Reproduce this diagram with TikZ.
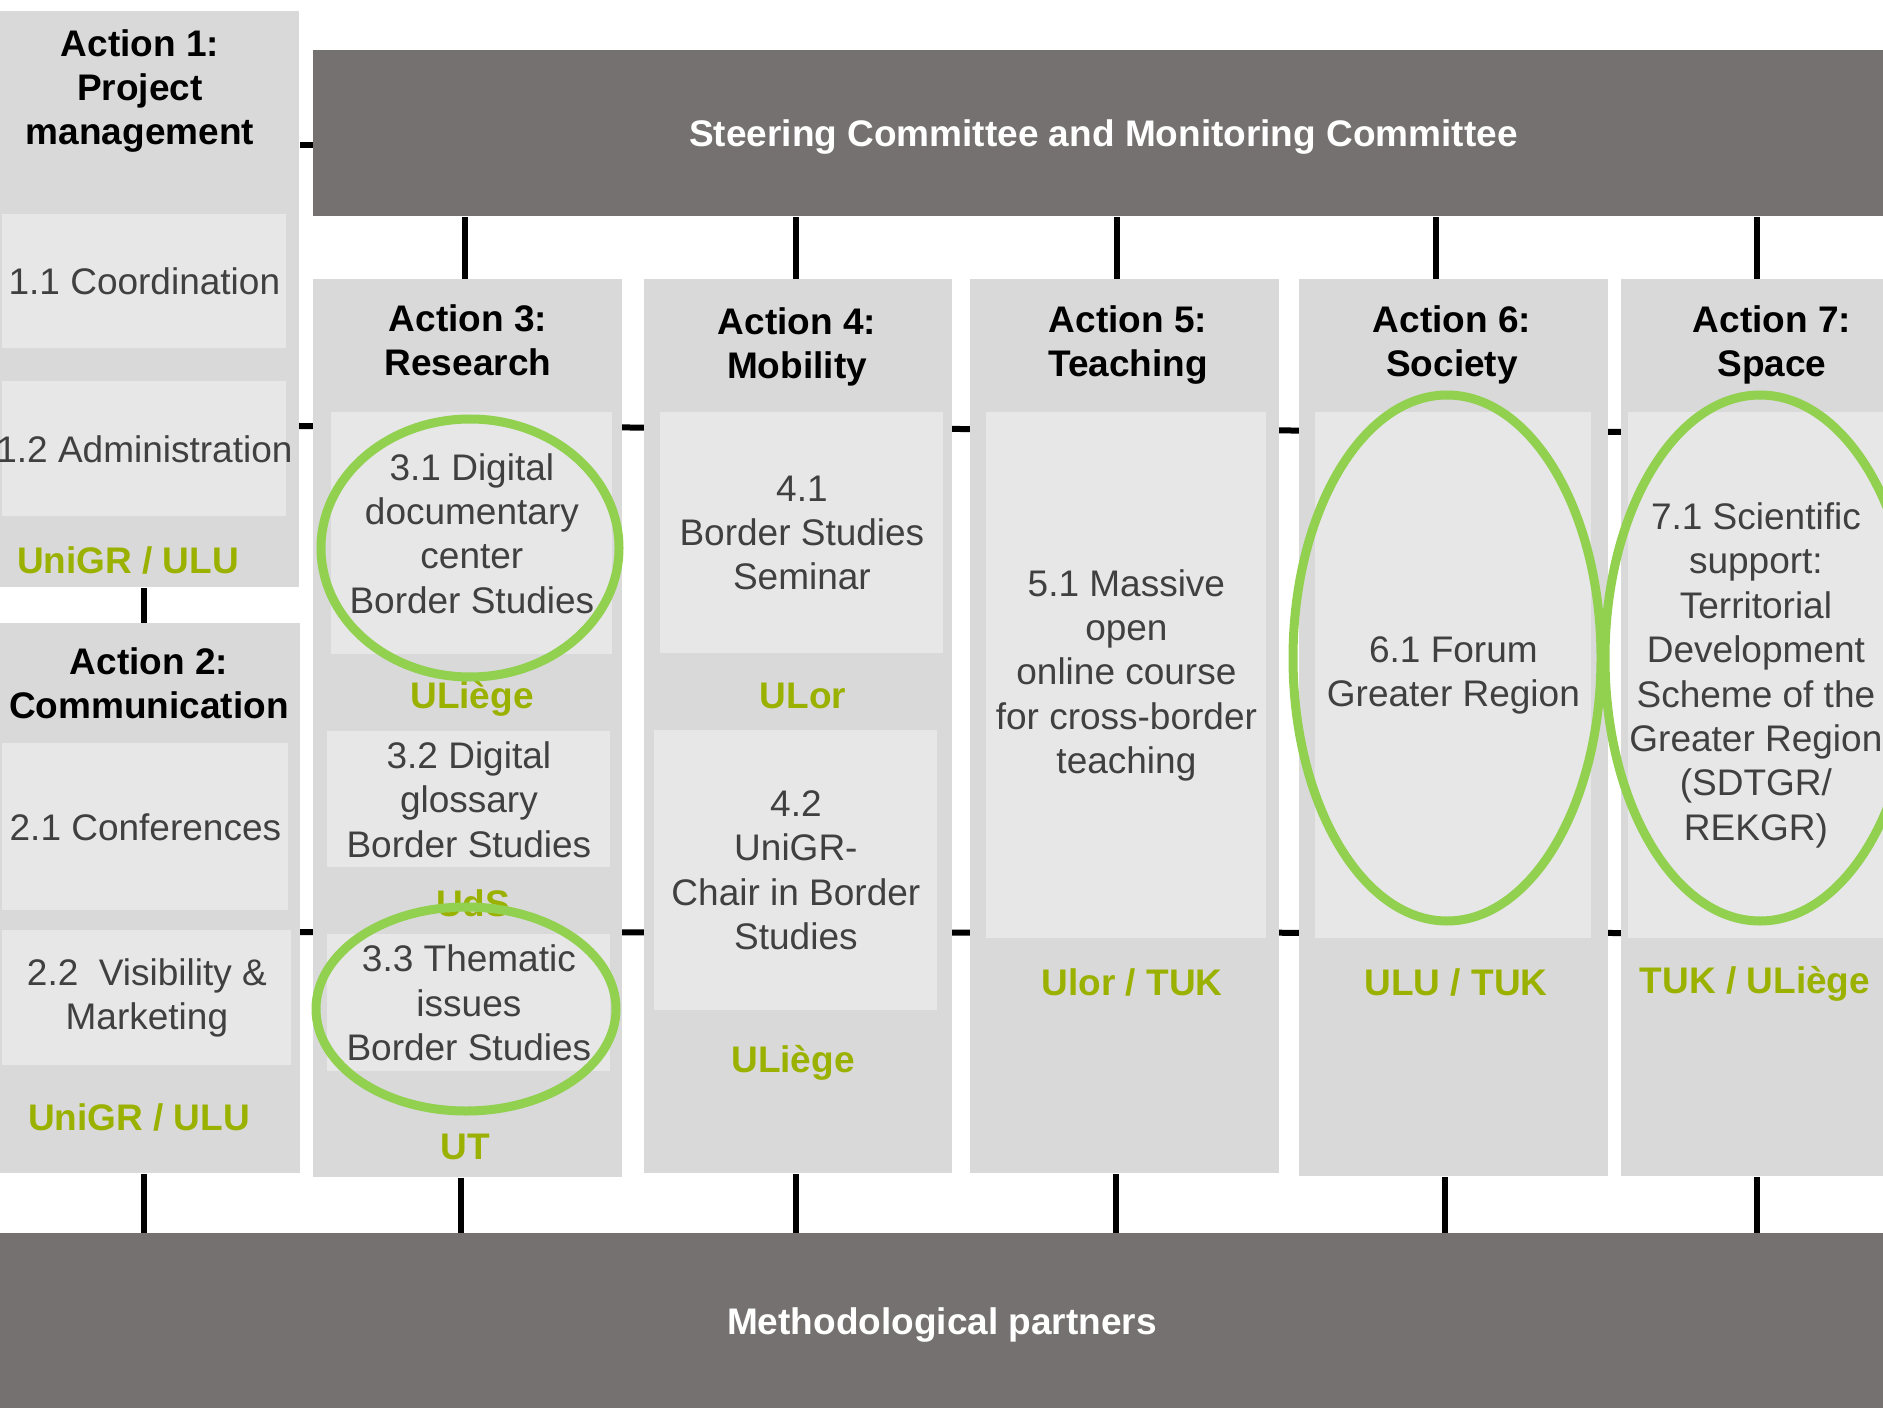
\documentclass[tikz,border=0pt]{standalone}
\usepackage{fontspec}
\setmainfont{Liberation Sans}
\usetikzlibrary{shapes,positioning,calc}

\definecolor{committee}{RGB}{117,113,113}
\definecolor{colgray}{RGB}{217,217,217}
\definecolor{taskgray}{RGB}{231,231,231}
\definecolor{tasktext}{RGB}{64,64,64}
\definecolor{partnergreen}{RGB}{155,177,0}
\definecolor{ringgreen}{RGB}{146,208,80}

\begin{document}
\begin{tikzpicture}[x=0.5pt, y=-0.5pt,
    bar/.style={rectangle, fill=committee, text=white, anchor=north west, inner sep=0pt, text depth=0pt, font=\fontsize{18.5}{22.2}\selectfont\bfseries},
    column/.style={rectangle, fill=colgray, anchor=north west, inner sep=0pt},
    task/.style={rectangle, fill=taskgray, anchor=north west, inner sep=0pt, text=tasktext, align=center, font=\fontsize{18.5}{22.2}\selectfont},
    heading/.style={text=black, align=center, font=\fontsize{18.5}{22.2}\selectfont\bfseries},
    partner/.style={text=partnergreen, font=\fontsize{18.5}{22.2}\selectfont\bfseries},
    ring/.style={ellipse, draw=ringgreen, line width=4.5pt, inner sep=0pt},
    link/.style={draw=black, line width=3pt}
]
\useasboundingbox (0,0) rectangle (1883,1411);
\clip (0,0) rectangle (1883,1411);

% Cross links behind the columns
\coordinate (upL) at (299,426);
\coordinate (upR) at (1621,432);
\coordinate (loL) at (300,932);
\coordinate (loR) at (1621,933);
\draw[link] (upL) -- (upR);
\draw[link] (loL) -- (loR);

% Committees
\node[bar, minimum width=790pt, minimum height=83pt] (steer) at (313,50) {Steering Committee and Monitoring Committee};
\node[bar, minimum width=941.5pt, minimum height=87.5pt] (partners) at (0,1233) {Methodological partners};

% Action columns
\node[column, minimum width=149.5pt, minimum height=288pt] (a1) at (0,11) {};
\node[column, minimum width=150pt, minimum height=275pt] (a2) at (0,623) {};
\node[column, minimum width=154.5pt, minimum height=449pt] (a3) at (313,279) {};
\node[column, minimum width=154pt, minimum height=447pt] (a4) at (644,279) {};
\node[column, minimum width=154.5pt, minimum height=447pt] (a5) at (970,279) {};
\node[column, minimum width=154.5pt, minimum height=448.5pt] (a6) at (1299,279) {};
\node[column, minimum width=136pt, minimum height=448.5pt] (a7) at (1621,279) {};

% Headings
\node[heading] (h1) at (140,91) {Action 1:\\Project\\management};
\node[heading] (h2) at (149,683) {Action 2:\\Communication};
\node[heading] (h3) at (468,340) {Action 3:\\Research};
\node[heading] (h4) at (797,347) {Action 4:\\Mobility};
\node[heading] (h5) at (1128,345) {Action 5:\\Teaching};
\node[heading] (h6) at (1452,345) {Action 6:\\Society};
\node[heading] (h7) at (1772,345) {Action 7:\\Space};

% Tasks
\node[task, minimum width=142pt, minimum height=67pt] (t11) at (2,214) {1.1 Coordination};
\node[task, minimum width=142pt, minimum height=67.5pt] (t12) at (2,381) {\makebox[0pt]{1.2 Administration}};
\node[task, minimum width=143pt, minimum height=83.5pt] (t21) at (2,743) {2.1 Conferences};
\node[task, minimum width=144.5pt, minimum height=67.5pt] (t22) at (2,930) {2.2\ \ Visibility \&\\Marketing};
\node[task, minimum width=140.5pt, minimum height=121pt] (t31) at (331,412) {3.1 Digital\\documentary\\center\\Border Studies};
\node[task, minimum width=141.5pt, minimum height=68pt] (t32) at (327,731) {3.2 Digital\\glossary\\Border Studies};
\node[task, minimum width=141.5pt, minimum height=68.5pt] (t33) at (327,934) {3.3 Thematic\\issues\\Border Studies};
\node[task, minimum width=141.5pt, minimum height=120.5pt] (t41) at (660,412) {4.1\\Border Studies\\Seminar};
\node[task, minimum width=141.5pt, minimum height=140pt] (t42) at (654,730) {4.2\\UniGR-\\Chair in Border\\Studies};
\node[task, minimum width=140pt, minimum height=263pt] (t51) at (986,412) {5.1 Massive\\open\\online course\\for cross-border\\teaching};
\node[task, minimum width=138pt, minimum height=263pt] (t61) at (1315,412) {6.1 Forum\\Greater Region};
\node[task, minimum width=127.5pt, minimum height=263pt] (t71) at (1628,412) {7.1 Scientific\\support:\\Territorial\\Development\\Scheme of the\\Greater Region\\(SDTGR/\\REKGR)};

% Partners
\node[partner] (p1) at (128,560) {UniGR / ULU};
\node[partner] (p2) at (139,1117) {UniGR / ULU};
\node[partner] (p31) at (472,699) {ULiège};
\node[partner] (p32) at (473,903) {UdS};
\node[partner] (p33) at (465,1147) {UT};
\node[partner] (p41) at (803,696) {ULor};
\node[partner] (p42) at (793,1063) {ULiège};
\node[partner] (p5) at (1132,982) {Ulor / TUK};
\node[partner] (p6) at (1456,982) {ULU / TUK};
\node[partner] (p7) at (1755,984) {TUK / ULiège};

% Links to the committees
\draw[link] ([xshift=-3pt]a1.south) -- ([xshift=-3pt]a1.south |- a2.north);
\draw[link] ([yshift=-6pt]steer.west) -- ([yshift=-6pt]steer.west -| a1.east);
\draw[link] ([xshift=-1.25pt]a3.north) -- ([xshift=-1.25pt]a3.north |- steer.south);
\draw[link] ([xshift=-1pt]a4.north) -- ([xshift=-1pt]a4.north |- steer.south);
\draw[link] ([xshift=-3.75pt]a5.north) -- ([xshift=-3.75pt]a5.north |- steer.south);
\draw[link] ([xshift=-8.75pt]a6.north) -- ([xshift=-8.75pt]a6.north |- steer.south);
\draw[link] (a7.north) -- (a7.north |- steer.south);
\draw[link] ([xshift=-3pt]a2.south) -- ([xshift=-3pt]a2.south |- partners.north);
\draw[link] ([xshift=-3.25pt]a3.south) -- ([xshift=-3.25pt]a3.south |- partners.north);
\draw[link] ([xshift=-1pt]a4.south) -- ([xshift=-1pt]a4.south |- partners.north);
\draw[link] ([xshift=-4.25pt]a5.south) -- ([xshift=-4.25pt]a5.south |- partners.north);
\draw[link] ([xshift=-4.25pt]a6.south) -- ([xshift=-4.25pt]a6.south |- partners.north);
\draw[link] (a7.south) -- (a7.south |- partners.north);

% Highlight rings
\node[ring, minimum width=149pt, minimum height=129pt] (r31) at (470,548) {};
\node[ring, minimum width=150pt, minimum height=102pt] (r33) at (466,1009) {};
\node[ring, minimum width=154pt, minimum height=263pt] (r61) at (1447,658) {};
\node[ring, minimum width=155pt, minimum height=263pt] (r71) at (1760,658) {};

\end{tikzpicture}
\end{document}
